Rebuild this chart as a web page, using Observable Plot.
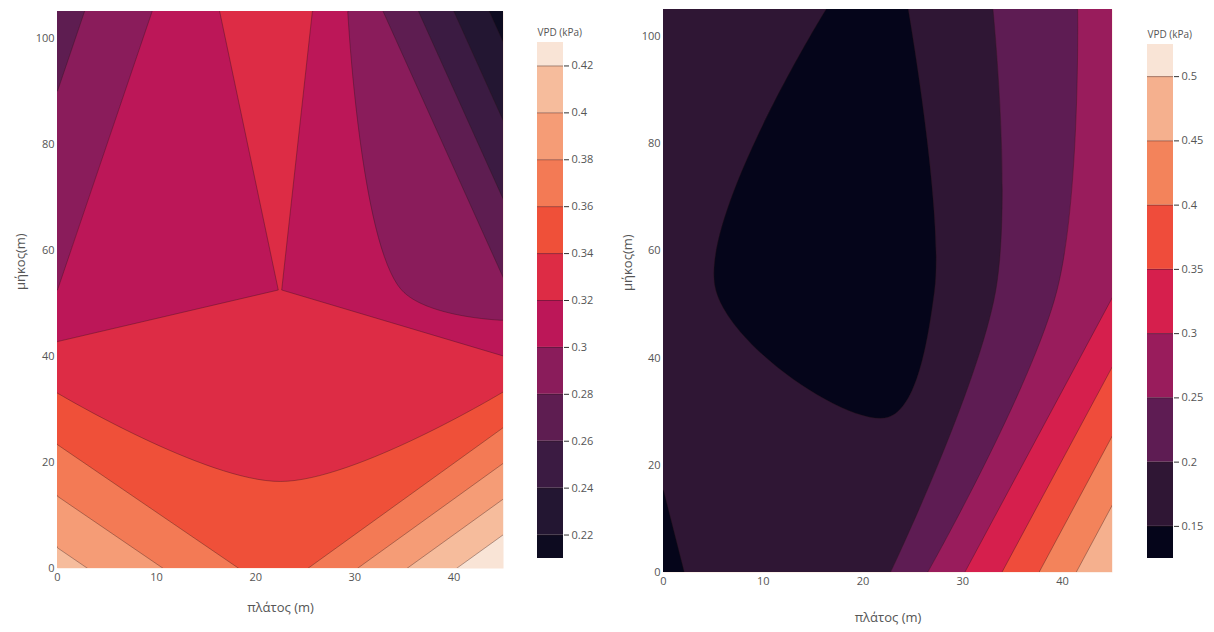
<!DOCTYPE html>
<html><head><meta charset="utf-8">
<script src="https://cdn.jsdelivr.net/npm/d3@7"></script>
<script src="https://cdn.jsdelivr.net/npm/@observablehq/plot@0.6"></script>
<style>
body{margin:0;background:#fff;font-family:"Open Sans",sans-serif;}
#wrap{position:relative;width:1214px;height:632px;overflow:hidden;background:#fff;}
#wrap svg{position:absolute;top:0;background:transparent;}
</style></head><body><div id="wrap"></div>
<script>
// grid node positions (m)
const xNodes = [0, 22.5, 45];
const yNodes = [0, 52.5, 105];
// VPD (kPa) at grid nodes, rows from y = 0 upward
const vpdLeft = [
  0.408, 0.349, 0.439,
  0.300, 0.3202, 0.283,
  0.272, 0.338, 0.212
];
const vpdRight = [
  0.1452, 0.1967, 0.499,
  0.1616, 0.112, 0.2955,
  0.1814, 0.138, 0.2706
];
const levelsLeft = [0.22, 0.24, 0.26, 0.28, 0.30, 0.32, 0.34, 0.36, 0.38, 0.40, 0.42];
const levelsRight = [0.15, 0.20, 0.25, 0.30, 0.35, 0.40, 0.45, 0.50];
const colorsLeft = ["#0d0b20", "#231632", "#3b1b42", "#5e1d51", "#8a1c5b", "#bc1758",
                    "#dd2c45", "#ef5039", "#f37a55", "#f59c76", "#f6bc9c", "#f9e4d6"];
const colorsRight = ["#05051a", "#2f1634", "#5e1c53", "#991c5c", "#d61f4d",
                     "#ef4c3b", "#f3835b", "#f5b08e", "#f9e4d6"];
const xTicks = [0, 10, 20, 30, 40];
const yTicks = [0, 20, 40, 60, 80, 100];
const xTitle = "πλάτος (m)";
const yTitle = "μήκος(m)";
const cbTitle = "VPD (kPa)";

const wrap = document.getElementById("wrap");
const textColor = "#555";
const H = 632;

function contourChart(o) {
  const nx = xNodes.length, ny = yNodes.length;
  const hx = (xNodes[1] - xNodes[0]) / 2, hy = (yNodes[1] - yNodes[0]) / 2;
  // contour the "at or below" regions (negated values), drawn from the highest level down
  const negLevels = o.levels.map((t) => -t).sort((a, b) => a - b);
  return Plot.plot({
    width: o.width, height: H,
    marginLeft: o.ml, marginRight: o.mr, marginTop: o.mt, marginBottom: o.mb,
    style: {fontFamily: "'Open Sans', sans-serif", fontSize: "11px", color: textColor, background: "transparent"},
    x: {domain: [xNodes[0], xNodes[nx - 1]]},
    y: {domain: [yNodes[0], yNodes[ny - 1]]},
    color: {type: "ordinal", domain: o.levels.map((t) => -t), range: o.colors.slice(0, -1)},
    marks: [
      Plot.frame({fill: o.colors[o.colors.length - 1]}),
      Plot.contour(o.values, {
        width: nx, height: ny,
        x1: xNodes[0] - hx, x2: xNodes[nx - 1] + hx,
        y1: yNodes[0] - hy, y2: yNodes[ny - 1] + hy,
        value: (d) => -d, fill: "value", thresholds: negLevels,
        stroke: "#2a1418", strokeWidth: 0.7, strokeOpacity: 0.5, clip: true
      }),
      Plot.axisX(xTicks, {tickSize: 0, tickPadding: 5, label: null, fontSize: 11}),
      Plot.axisY(yTicks, {tickSize: 0, tickPadding: 3, label: null, fontSize: 11}),
      Plot.text([xTitle], {frameAnchor: "bottom", dy: o.xDy, fontSize: 13, fill: textColor}),
      Plot.text([yTitle], {frameAnchor: "left", dx: -o.yDx, rotate: -90, fontSize: 13, fill: textColor})
    ]
  });
}

// Smooth the contour lines (as the original's spline-smoothed contours) inside the frame
function smoothContours(svg, o) {
  const fx1 = o.ml, fy1 = o.mt, fx2 = o.width - o.mr, fy2 = H - o.mb, eps = 0.6;
  const sx = svg.scale("x"), sy = svg.scale("y");
  const nodes = [];
  for (const xv of xNodes) for (const yv of yNodes) nodes.push([sx.apply(xv), sy.apply(yv)]);
  const nearNode = (p) => nodes.some((n) => Math.hypot(n[0] - p[0], n[1] - p[1]) < 5);
  const inFrame = (p) => p[0] >= fx1 - eps && p[0] <= fx2 + eps && p[1] >= fy1 - eps && p[1] <= fy2 + eps;
  const curve = d3.line().curve(d3.curveCatmullRom.alpha(0.5));
  const closed = d3.line().curve(d3.curveCatmullRomClosed.alpha(0.5));
  const f = (p) => `${p[0]},${p[1]}`;
  function turn(a, b, c) {
    const ux = b[0] - a[0], uy = b[1] - a[1], vx = c[0] - b[0], vy = c[1] - b[1];
    const nu = Math.hypot(ux, uy), nv = Math.hypot(vx, vy);
    if (!nu || !nv) return 0;
    return Math.acos(Math.max(-1, Math.min(1, (ux * vx + uy * vy) / (nu * nv)))) * 180 / Math.PI;
  }
  function runPath(run) {
    // split at sharp corners that sit on a grid node
    let s = "", start = 0;
    const pieces = [];
    for (let j = 1; j < run.length - 1; j++) {
      if (nearNode(run[j]) && turn(run[j - 1], run[j], run[j + 1]) > 40) {
        pieces.push(run.slice(start, j + 1)); start = j;
      }
    }
    pieces.push(run.slice(start));
    for (const piece of pieces) {
      if (piece.length >= 3) s += curve(piece).replace(/^M[^A-Za-z]*/, "");
      else for (const p of piece.slice(1)) s += "L" + f(p);
    }
    return s;
  }
  function ringPath(pts) {
    if (pts.length > 1) {
      const a = pts[0], b = pts[pts.length - 1];
      if (Math.abs(a[0] - b[0]) < 1e-6 && Math.abs(a[1] - b[1]) < 1e-6) pts = pts.slice(0, -1);
    }
    if (pts.length < 3) return "";
    const ins = pts.map(inFrame);
    const k = ins.indexOf(false);
    if (k < 0) return closed(pts);
    const P = pts.slice(k).concat(pts.slice(0, k));
    const I = ins.slice(k).concat(ins.slice(0, k));
    let s = "M" + f(P[0]);
    let i = 1;
    while (i < P.length) {
      if (!I[i]) { s += "L" + f(P[i]); i++; continue; }
      let j = i;
      while (j < P.length && I[j]) j++;
      const run = P.slice(i, j);
      s += "L" + f(run[0]) + runPath(run);
      i = j;
    }
    return s + "Z";
  }
  svg.querySelectorAll('g[aria-label="contour"] path').forEach((path) => {
    const d = path.getAttribute("d");
    if (!d) return;
    try {
      const rings = d.split("M").filter((s) => s.trim()).map((s) => {
        const nums = (s.match(/-?\d*\.?\d+(?:e[-+]?\d+)?/gi) || []).map(Number);
        const pts = [];
        for (let i = 0; i + 1 < nums.length; i += 2) pts.push([nums[i], nums[i + 1]]);
        return pts;
      });
      const out = rings.map(ringPath).join("");
      if (out && !out.includes("NaN")) path.setAttribute("d", out);
    } catch (e) { /* keep the original path */ }
  });
}

function colorbar(o) {
  const step = o.levels[1] - o.levels[0];
  const lo = o.levels[0] - step / 2, hi = o.levels[o.levels.length - 1] + step / 2;
  const edges = [lo, ...o.levels, hi];
  const bands = o.colors.map((c, i) => ({y1: edges[i], y2: edges[i + 1], c}));
  return Plot.plot({
    width: o.width, height: H,
    marginLeft: o.ml, marginRight: o.mr, marginTop: o.mt, marginBottom: o.mb,
    style: {fontFamily: "'Open Sans', sans-serif", fontSize: "11px", color: textColor, background: "transparent"},
    x: {domain: [0, 1], axis: null},
    y: {domain: [lo, hi], axis: null},
    color: {type: "identity"},
    marks: [
      Plot.rect(bands, {x1: 0, x2: 1, y1: "y1", y2: "y2", fill: "c"}),
      Plot.ruleY(o.levels, {x1: 0, x2: 1, stroke: "#2a1418", strokeOpacity: 0.5, strokeWidth: 0.8}),
      Plot.axisY(o.levels, {anchor: "right", tickSize: 5, tickPadding: 3, stroke: "#333",
        tickFormat: d3.format("~g"), label: null, fontSize: 11}),
      Plot.text([cbTitle], {frameAnchor: "top-left", dy: -14, textAnchor: "start", fontSize: 10, fill: textColor})
    ]
  });
}

function place(el, left) { el.style.left = left + "px"; wrap.appendChild(el); }

const optLeft = {values: vpdLeft, levels: levelsLeft, colors: colorsLeft,
  width: 520, ml: 57, mr: 17, mt: 11, mb: 64, xDy: 43, yDx: 37};
const optRight = {values: vpdRight, levels: levelsRight, colors: colorsRight,
  width: 530, ml: 63, mr: 18, mt: 9, mb: 60, xDy: 49, yDx: 36};

const cL = contourChart(optLeft); smoothContours(cL, optLeft); place(cL, 0);
place(colorbar({levels: levelsLeft, colors: colorsLeft, width: 80, ml: 17, mr: 37, mt: 42, mb: 74}), 520);
const cR = contourChart(optRight); smoothContours(cR, optRight); place(cR, 600);
place(colorbar({levels: levelsRight, colors: colorsRight, width: 84, ml: 17, mr: 41, mt: 44, mb: 74}), 1130);
</script>
</body></html>
